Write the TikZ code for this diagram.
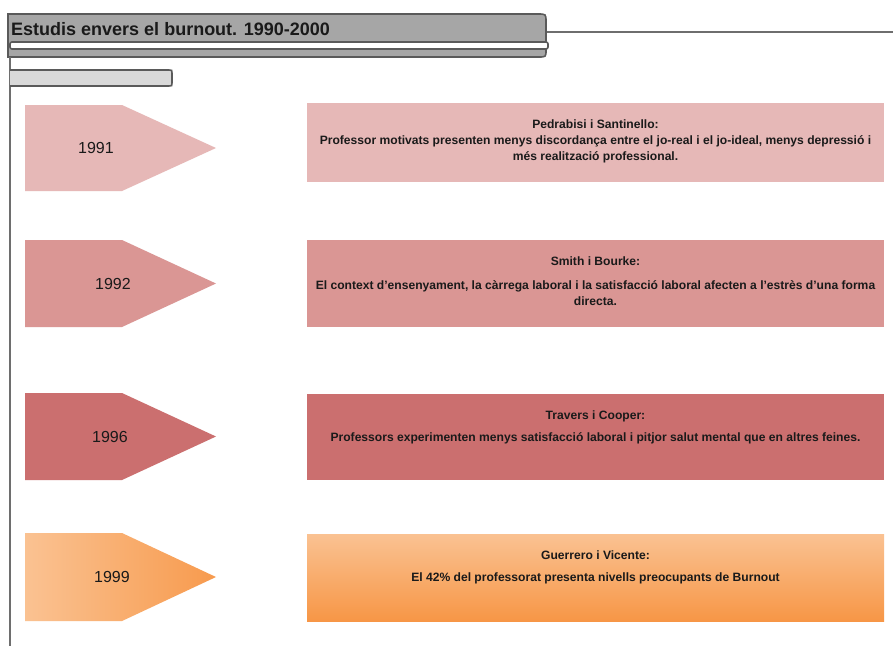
\documentclass[tikz,border=0pt]{standalone}
\usepackage{fontspec}
\setmainfont{Liberation Sans}
\definecolor{frameline}{HTML}{5A5A5A}
\definecolor{rulegray}{HTML}{6E6E6E}
\definecolor{tabfill}{HTML}{A6A6A6}
\definecolor{subfill}{HTML}{D9D9D9}
\definecolor{roseA}{HTML}{E6B8B7}
\definecolor{roseB}{HTML}{DA9694}
\definecolor{roseC}{HTML}{CB6F6F}
\definecolor{orangeL}{HTML}{FAC292}
\definecolor{orangeD}{HTML}{F79646}
\definecolor{inktext}{HTML}{1A1A1A}
\tikzset{
  frame/.style={draw=frameline, line width=1.6pt},
  yearlabel/.style={font=\fontsize{16}{18}\selectfont, text=inktext, inner sep=0pt},
  entrybox/.style={rectangle, draw=none, minimum width=577pt, minimum height=80pt, inner sep=0pt},
  entrytext/.style={font=\bfseries\fontsize{12.1}{16}\selectfont, text=inktext, align=center, inner sep=0pt, anchor=north},
}
\begin{document}
\begin{tikzpicture}[x=1pt,y=-1pt]
\useasboundingbox (0,0) rectangle (893,646);
\fill[white] (0,0) rectangle (893,646);

% header tab with its inner white bar
\draw[frame, fill=tabfill] (8,14) -- (538,14) .. controls (546,14) .. (546,22)
  -- (546,50) .. controls (546,57) .. (538,57) -- (8,57) -- cycle;
\draw[frame, fill=white, rounded corners=2pt] (10,42) rectangle (548,49);
\node[anchor=base west, inner sep=0pt, font=\bfseries\fontsize{18}{20}\selectfont, text=inktext]
  (title) at (11,35.5) {Estudis envers el burnout. 1990-2000};

% rule leaving the tab to the right
\coordinate (tabR) at (547,32);
\coordinate (ruleEnd) at (893,32);
\draw[draw=rulegray, line width=1.4pt] (tabR) -- (ruleEnd);

% left spine
\coordinate (spineTop) at (10,57);
\coordinate (spineBot) at (10,646);
\draw[draw=rulegray, line width=2pt] (spineTop) -- (spineBot);

% small sub-tab
\draw[frame, fill=subfill] (10,70) -- (169,70) .. controls (172,70) .. (172,73)
  -- (172,83) .. controls (172,86) .. (169,86) -- (10,86);

% year pentagons
\fill[roseA] (25,105) -- (122,105) -- (216,148) -- (122,191) -- (25,191) -- cycle;
\node[yearlabel] (y1991) at (96,148) {1991};
\fill[roseB] (25,240) -- (122,240) -- (216,283.5) -- (122,327) -- (25,327) -- cycle;
\node[yearlabel] (y1992) at (113,283.5) {1992};
\fill[roseC] (25,393) -- (122,393) -- (216,436.5) -- (122,480) -- (25,480) -- cycle;
\node[yearlabel] (y1996) at (110,436.5) {1996};
\shade[left color=orangeL, right color=orangeD!90!orangeL]
  (25,533) -- (122,533) -- (216,577) -- (122,621) -- (25,621) -- cycle;
\node[yearlabel] (y1999) at (112,577) {1999};

% study boxes
\node[entrybox, fill=roseA, minimum height=79pt] (b1991) at (595.5,142.5) {};
\node[entrytext] (t1991) at ([yshift=-17pt]b1991.north)
  {Pedrabisi i Santinello:\\Professor motivats presenten menys discordança entre el jo-real i el jo-ideal, menys depressió i\\més realització professional.};

\node[entrybox, fill=roseB, minimum height=87pt] (b1992) at (595.5,283.5) {};
\node[entrytext] (t1992) at ([yshift=-17pt]b1992.north)
  {Smith i Bourke:\\[8pt]El context d'ensenyament, la càrrega laboral i la satisfacció laboral afecten a l'estrès d'una forma\\directa.};

\node[entrybox, fill=roseC, minimum height=86pt] (b1996) at (595.5,437) {};
\node[entrytext] (t1996) at ([yshift=-17pt]b1996.north)
  {Travers i Cooper:\\[6pt]Professors experimenten menys satisfacció laboral i pitjor salut mental que en altres feines.};

\shade[top color=orangeL, bottom color=orangeD] (307,534) rectangle (884,621);
\node[entrybox, minimum height=87pt] (b1999) at (595.5,577.5) {};
\node[entrytext] (t1999) at ([yshift=-17pt]b1999.north)
  {Guerrero i Vicente:\\[6pt]El 42\% del professorat presenta nivells preocupants de Burnout};
\end{tikzpicture}
\end{document}
